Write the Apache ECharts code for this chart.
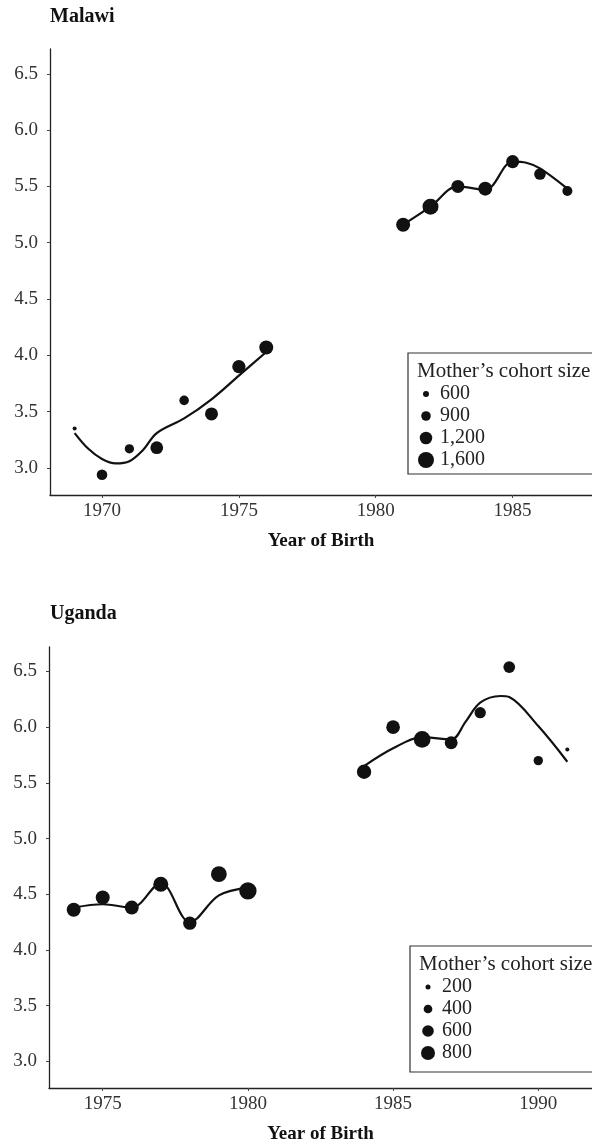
<!DOCTYPE html>
<html>
<head>
<meta charset="utf-8">
<script src="https://cdn.jsdelivr.net/npm/echarts@6/dist/echarts.min.js"></script>
<style>
  html, body { margin: 0; padding: 0; background: #fff; }
  #chart { width: 592px; height: 1145px; }
</style>
</head>
<body>
<div id="chart"></div>
<script>
// Malawi: year of birth, mean value, mother's cohort size
const malawiYears = [1969, 1970, 1971, 1972, 1973, 1974, 1975, 1976, 1981, 1982, 1983, 1984, 1985, 1986, 1987];
const malawiValues = [3.35, 2.94, 3.17, 3.18, 3.60, 3.48, 3.90, 4.07, 5.16, 5.32, 5.50, 5.48, 5.72, 5.61, 5.46];
const malawiCohort = [460, 1000, 880, 1220, 900, 1250, 1280, 1360, 1360, 1600, 1250, 1360, 1250, 1110, 940];

// smoothed fit, two pieces
const malawiFitYearsA = [1969, 1969.5, 1970, 1970.5, 1971, 1971.5, 1972, 1973, 1974, 1975, 1976];
const malawiFitA = [3.31, 3.17, 3.08, 3.04, 3.06, 3.16, 3.31, 3.44, 3.61, 3.82, 4.03];
const malawiFitYearsB = [1981, 1982, 1983, 1984, 1985, 1985.5, 1986, 1987];
const malawiFitB = [5.16, 5.32, 5.50, 5.47, 5.72, 5.71, 5.66, 5.48];

// Uganda
const ugandaYears = [1974, 1975, 1976, 1977, 1978, 1979, 1980, 1984, 1985, 1986, 1987, 1988, 1989, 1990, 1991];
const ugandaValues = [4.36, 4.47, 4.38, 4.59, 4.24, 4.68, 4.53, 5.60, 6.00, 5.89, 5.86, 6.13, 6.54, 5.70, 5.80];
const ugandaCohort = [800, 800, 800, 890, 740, 960, 1120, 830, 770, 1060, 710, 580, 610, 440, 160];

const ugandaFitYearsA = [1974, 1975, 1976, 1977, 1978, 1979, 1980];
const ugandaFitA = [4.38, 4.41, 4.38, 4.60, 4.25, 4.49, 4.56];
const ugandaFitYearsB = [1984, 1985, 1986, 1987, 1987.5, 1988, 1988.7, 1989, 1990, 1991];
const ugandaFitB = [5.65, 5.81, 5.91, 5.89, 6.05, 6.22, 6.28, 6.27, 6.01, 5.69];

// legend breaks
const malawiBreaks = [600, 900, 1200, 1600];
const malawiBreakLabels = ['600', '900', '1,200', '1,600'];
const ugandaBreaks = [200, 400, 600, 800];
const ugandaBreakLabels = ['200', '400', '600', '800'];

// tick labels
const yTicks = [3.0, 3.5, 4.0, 4.5, 5.0, 5.5, 6.0, 6.5];
const malawiXTicks = [1970, 1975, 1980, 1985];
const ugandaXTicks = [1975, 1980, 1985, 1990];

const FONT = "'Liberation Serif', 'DejaVu Serif', serif";
const INK = '#111';

// diameter grows with sqrt of cohort size
function sizeScale(lo, hi, dLo, dHi) {
  const a = Math.sqrt(lo), b = Math.sqrt(hi);
  return v => dLo + (dHi - dLo) * (Math.sqrt(v) - a) / (b - a);
}
const malawiSize = sizeScale(600, 1600, 6, 16);
const ugandaSize = sizeScale(200, 800, 5, 14);

function zip(xs, ys, zs) {
  return xs.map((x, i) => zs ? [x, ys[i], zs[i]] : [x, ys[i]]);
}

function xAxisFor(gridIndex, min, max, ticks) {
  return {
    type: 'value', gridIndex, min, max,
    name: 'Year of Birth', nameLocation: 'middle', nameGap: 37,
    nameTextStyle: { fontFamily: FONT, fontSize: 19, fontWeight: 'bold', color: INK },
    axisLine: { lineStyle: { color: '#222', width: 1.3 } },
    axisTick: { length: 3, customValues: ticks, lineStyle: { color: '#444' } },
    axisLabel: {
      customValues: ticks, fontFamily: FONT, fontSize: 19, color: '#333', margin: 7,
      formatter: v => String(v)
    },
    splitLine: { show: false }
  };
}

function yAxisFor(gridIndex) {
  return {
    type: 'value', gridIndex, min: 2.76, max: 6.72,
    axisLine: { show: true, lineStyle: { color: '#222', width: 1.3 } },
    axisTick: { show: true, length: 3, customValues: yTicks, lineStyle: { color: '#444' } },
    axisLabel: {
      customValues: yTicks, fontFamily: FONT, fontSize: 19, color: '#333', margin: 12,
      formatter: v => v.toFixed(1)
    },
    splitLine: { show: false }
  };
}

function fitLine(idx, xs, ys) {
  return {
    type: 'line', xAxisIndex: idx, yAxisIndex: idx,
    data: zip(xs, ys), smooth: 0.35, symbol: 'none', z: 2,
    lineStyle: { color: INK, width: 2.2 }
  };
}

function points(idx, xs, ys, cs, sizeFn) {
  return {
    type: 'scatter', xAxisIndex: idx, yAxisIndex: idx,
    data: zip(xs, ys, cs), z: 3,
    symbolSize: val => sizeFn(val[2]),
    itemStyle: { color: INK, opacity: 1 }
  };
}

// legend box drawn by hand: title + sized dots
function legendBox(left, top, bottom, firstY, breaks, labels, sizeFn) {
  const kids = [
    { type: 'rect', shape: { x: left, y: top, width: 220, height: bottom - top },
      style: { fill: '#fff', stroke: '#333', lineWidth: 1.2 } },
    { type: 'text', x: left + 9, y: firstY - 23,
      style: { text: 'Mother\u2019s cohort size', font: '21px ' + FONT, fill: '#222', verticalAlign: 'middle' } }
  ];
  breaks.forEach((b, i) => {
    const cy = firstY + i * 22;
    kids.push({ type: 'circle', shape: { cx: left + 18, cy, r: sizeFn(b) / 2 }, style: { fill: INK } });
    kids.push({ type: 'text', x: left + 32, y: cy,
      style: { text: labels[i], font: '20px ' + FONT, fill: '#222', verticalAlign: 'middle' } });
  });
  return { type: 'group', z: 10, children: kids };
}

const chart = echarts.init(document.getElementById('chart'), null, { renderer: 'canvas' });

chart.setOption({
  animation: false,
  backgroundColor: '#fff',
  title: [
    { text: 'Malawi', left: 50, top: 7, padding: 0,
      textStyle: { fontFamily: FONT, fontSize: 20, fontWeight: 'bold', color: INK } },
    { text: 'Uganda', left: 50, top: 604, padding: 0,
      textStyle: { fontFamily: FONT, fontSize: 20, fontWeight: 'bold', color: INK } }
  ],
  grid: [
    { left: 50, top: 49, width: 552, height: 446 },
    { left: 49, top: 647, width: 552, height: 444 }
  ],
  xAxis: [
    xAxisFor(0, 1968.1, 1987.9, malawiXTicks),
    xAxisFor(1, 1973.15, 1991.85, ugandaXTicks)
  ],
  yAxis: [yAxisFor(0), yAxisFor(1)],
  series: [
    fitLine(0, malawiFitYearsA, malawiFitA),
    fitLine(0, malawiFitYearsB, malawiFitB),
    points(0, malawiYears, malawiValues, malawiCohort, malawiSize),
    fitLine(1, ugandaFitYearsA, ugandaFitA),
    fitLine(1, ugandaFitYearsB, ugandaFitB),
    points(1, ugandaYears, ugandaValues, ugandaCohort, ugandaSize)
  ],
  graphic: [
    legendBox(408, 353, 474, 394, malawiBreaks, malawiBreakLabels, malawiSize),
    legendBox(410, 946, 1072, 987, ugandaBreaks, ugandaBreakLabels, ugandaSize)
  ]
});
</script>
</body>
</html>
